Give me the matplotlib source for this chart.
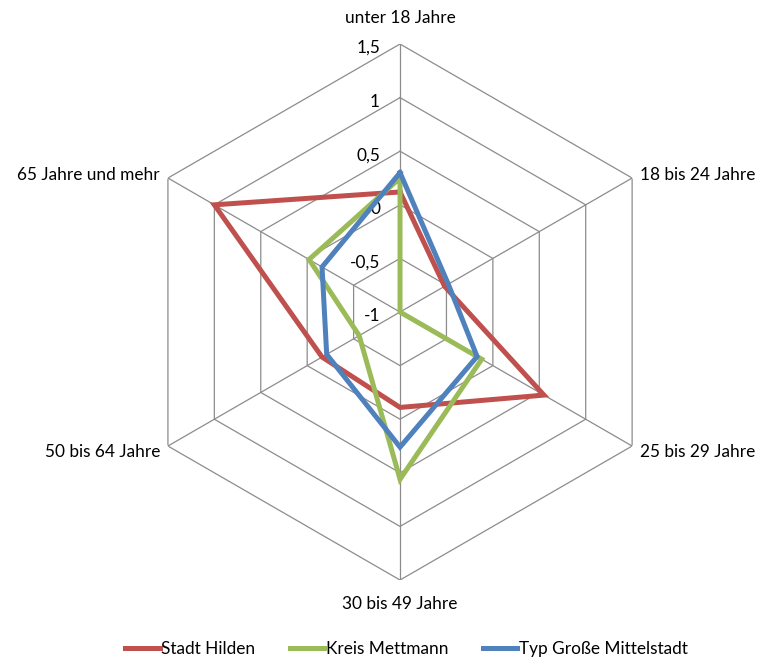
import numpy as np
import matplotlib
matplotlib.use("Agg")
import matplotlib.pyplot as plt

plt.rcParams['font.family'] = ['Lato', 'DejaVu Sans']

# categories (clockwise from top)
categories = ['unter 18 Jahre', '18 bis 24 Jahre', '25 bis 29 Jahre',
              '30 bis 49 Jahre', '50 bis 64 Jahre', '65 Jahre und mehr']
series_names = ['Stadt Hilden', 'Kreis Mettmann', 'Typ Große Mittelstadt']
hilden = [0.12, -0.52, 0.55, -0.11, -0.16, 1.00]
mettmann = [0.25, -1.00, -0.12, 0.56, -0.56, -0.02]
mittelstadt = [0.30, -0.48, -0.17, 0.26, -0.21, -0.16]
ring_values = [-1, -0.5, 0, 0.5, 1, 1.5]
ring_labels = ['-1', '-0,5', '0', '0,5', '1', '1,5']

colors = ['#C0504D', '#9BBB59', '#4F81BD']
grid_color = '#8C8C8C'
fs = 12.4

n = len(categories)
angles = np.linspace(0, 2 * np.pi, n, endpoint=False)
closed = np.append(angles, angles[0])

fig = plt.figure(figsize=(7.6, 6.58), dpi=100)
ax = fig.add_axes([0.1737, 0.1185, 0.7053, 0.8146], projection='polar')
ax.set_theta_zero_location('N')
ax.set_theta_direction(-1)
ax.set_ylim(-1, 1.5)
ax.axis('off')

# hexagon grid
for v in ring_values[1:]:
    ax.plot(closed, [v] * (n + 1), color=grid_color, lw=0.9, zorder=1)
for a in angles:
    ax.plot([a, a], [-1, 1.5], color=grid_color, lw=0.9, zorder=1)

# value labels along top axis
for v, lbl in zip(ring_values, ring_labels):
    ax.annotate(lbl, xy=(0, v), xytext=(-20, -4), textcoords='offset pixels',
                ha='right', va='center', fontsize=fs)

# category labels
offsets = [(0, 26, 'center'), (8, 3, 'left'), (8, -6, 'left'),
           (0, -24, 'center'), (-8, -6, 'right'), (-8, 3, 'right')]
for a, cat, (dx, dy, ha) in zip(angles, categories, offsets):
    ax.annotate(cat, xy=(a, 1.5), xytext=(dx, dy), textcoords='offset pixels',
                ha=ha, va='center', fontsize=fs)

for vals, name, c in zip([hilden, mettmann, mittelstadt], series_names, colors):
    ax.plot(closed, vals + vals[:1], color=c, lw=3.6, label=name, zorder=3,
            solid_joinstyle='miter')

fig.legend(loc='lower center', bbox_to_anchor=(0.535, -0.022), ncol=3,
           frameon=False, fontsize=fs, handlelength=2.0, handletextpad=0.1,
           columnspacing=2.0)

fig.savefig('out.png', dpi=100)
